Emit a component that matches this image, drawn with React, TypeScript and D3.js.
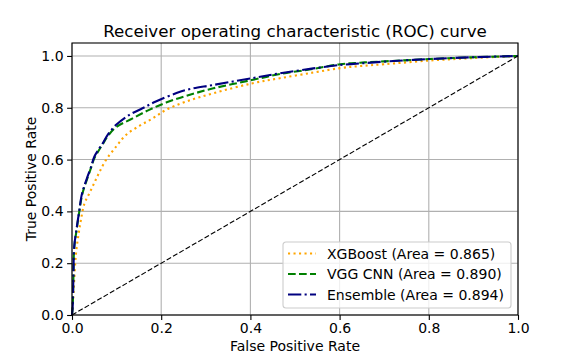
import React, { useEffect, useRef } from 'react';
import * as d3 from 'd3';

// ROC points (false positive rate, true positive rate)
const xgbFpr = [0, 0.003, 0.005, 0.009, 0.015, 0.02, 0.028, 0.039, 0.05, 0.061, 0.076, 0.099, 0.121, 0.151, 0.181, 0.211, 0.256, 0.317, 0.403, 0.466, 0.541, 0.601, 0.646, 0.7, 0.8, 0.9, 1.0];
const xgbTpr = [0, 0.071, 0.135, 0.238, 0.315, 0.367, 0.431, 0.47, 0.51, 0.55, 0.598, 0.65, 0.695, 0.73, 0.759, 0.792, 0.824, 0.856, 0.894, 0.914, 0.936, 0.953, 0.961, 0.968, 0.982, 0.992, 1.0];

const vggFpr = [0, 0.0015, 0.003, 0.005, 0.01, 0.016, 0.021, 0.026, 0.034, 0.043, 0.05, 0.06, 0.069, 0.08, 0.099, 0.136, 0.173, 0.211, 0.256, 0.317, 0.403, 0.466, 0.541, 0.601, 0.646, 0.7, 0.8, 0.9, 1.0];
const vggTpr = [0, 0.03, 0.13, 0.26, 0.325, 0.395, 0.45, 0.485, 0.525, 0.57, 0.605, 0.635, 0.66, 0.69, 0.725, 0.759, 0.792, 0.82, 0.846, 0.875, 0.907, 0.93, 0.95, 0.968, 0.974, 0.979, 0.988, 0.995, 1.0];

const ensFpr = [0, 0.0015, 0.003, 0.005, 0.01, 0.016, 0.021, 0.026, 0.034, 0.043, 0.05, 0.06, 0.069, 0.08, 0.099, 0.128, 0.158, 0.188, 0.233, 0.256, 0.317, 0.403, 0.466, 0.541, 0.601, 0.646, 0.7, 0.8, 0.9, 1.0];
const ensTpr = [0, 0.03, 0.135, 0.264, 0.33, 0.399, 0.457, 0.49, 0.53, 0.573, 0.611, 0.64, 0.663, 0.695, 0.734, 0.772, 0.798, 0.824, 0.856, 0.869, 0.888, 0.914, 0.933, 0.952, 0.965, 0.971, 0.978, 0.988, 0.995, 1.0];

const seriesLabels = ['XGBoost (Area = 0.865)', 'VGG CNN (Area = 0.890)', 'Ensemble (Area = 0.894)'];
const chanceLine = [0, 1];
const xTicks = [0, 0.2, 0.4, 0.6, 0.8, 1.0];
const yTicks = [0, 0.2, 0.4, 0.6, 0.8, 1.0];

const FONT = 'DejaVu Sans, sans-serif';

export default function App() {
  const ref = useRef<SVGSVGElement>(null);

  useEffect(() => {
    const svg = d3.select(ref.current);
    svg.selectAll('*').remove();

    const left = 72, right = 518, top = 43, bottom = 315;

    const x = d3.scaleLinear().domain([0, 1]).range([left, right]);
    const y = d3.scaleLinear().domain([0, 1.05]).range([bottom, top]);

    // grid
    svg.append('g').selectAll('line.gx')
      .data(xTicks).enter().append('line')
      .attr('x1', d => x(d)).attr('x2', d => x(d))
      .attr('y1', top).attr('y2', bottom)
      .attr('stroke', '#b0b0b0').attr('stroke-width', 1.1);
    svg.append('g').selectAll('line.gy')
      .data(yTicks).enter().append('line')
      .attr('x1', left).attr('x2', right)
      .attr('y1', d => y(d)).attr('y2', d => y(d))
      .attr('stroke', '#b0b0b0').attr('stroke-width', 1.1);

    // lw 1.5pt at 100dpi, matplotlib dash patterns scaled by lw
    const series = [
      { fpr: xgbFpr, tpr: xgbTpr, color: 'orange', dash: '2.1,3.4' },
      { fpr: vggFpr, tpr: vggTpr, color: 'green', dash: '7.7,3.3' },
      { fpr: ensFpr, tpr: ensTpr, color: 'navy', dash: '13.3,3.3,2.1,3.3' },
    ];

    const line = d3.line<[number, number]>()
      .x(d => x(d[0]))
      .y(d => y(d[1]))
      .curve(d3.curveCatmullRom.alpha(0.5));

    const plot = svg.append('g');
    series.forEach(s => {
      const pts = s.fpr.map((f, i) => [f, s.tpr[i]] as [number, number]);
      plot.append('path')
        .attr('d', line(pts))
        .attr('fill', 'none')
        .attr('stroke', s.color)
        .attr('stroke-width', 2.1)
        .attr('stroke-dasharray', s.dash);
    });

    plot.append('line')
      .attr('x1', x(chanceLine[0])).attr('y1', y(chanceLine[0]))
      .attr('x2', x(chanceLine[1])).attr('y2', y(chanceLine[1]))
      .attr('stroke', 'black')
      .attr('stroke-width', 1.1)
      .attr('stroke-dasharray', '5.1,2.2');

    // spines
    svg.append('rect')
      .attr('x', left).attr('y', top)
      .attr('width', right - left).attr('height', bottom - top)
      .attr('fill', 'none').attr('stroke', 'black').attr('stroke-width', 1.1);

    const fmt = d3.format('.1f');
    const xAxis = svg.append('g')
      .attr('transform', `translate(0,${bottom})`)
      .call(d3.axisBottom(x).tickValues(xTicks).tickFormat(d => fmt(d as number)).tickSize(4.9).tickSizeOuter(0).tickPadding(3.5));
    const yAxis = svg.append('g')
      .attr('transform', `translate(${left},0)`)
      .call(d3.axisLeft(y).tickValues(yTicks).tickFormat(d => fmt(d as number)).tickSize(4.9).tickSizeOuter(0).tickPadding(3.5));
    [xAxis, yAxis].forEach(a => {
      a.select('.domain').remove();
      a.selectAll('line').attr('stroke', 'black').attr('stroke-width', 1.1);
      a.selectAll('text')
        .attr('font-family', FONT)
        .attr('font-size', '14px')
        .attr('fill', 'black');
    });

    // title and axis labels
    svg.append('text')
      .attr('x', (left + right) / 2).attr('y', 37)
      .attr('text-anchor', 'middle')
      .attr('font-family', FONT).attr('font-size', '16.7px')
      .text('Receiver operating characteristic (ROC) curve');
    svg.append('text')
      .attr('x', (left + right) / 2).attr('y', 351)
      .attr('text-anchor', 'middle')
      .attr('font-family', FONT).attr('font-size', '14px')
      .text('False Positive Rate');
    svg.append('text')
      .attr('transform', `translate(36,${(top + bottom) / 2}) rotate(-90)`)
      .attr('text-anchor', 'middle')
      .attr('font-family', FONT).attr('font-size', '14px')
      .text('True Positive Rate');

    // legend
    const lg = svg.append('g').attr('transform', 'translate(283,242)');
    lg.append('rect')
      .attr('width', 228).attr('height', 66).attr('rx', 3)
      .attr('fill', 'white').attr('fill-opacity', 0.8)
      .attr('stroke', '#cccccc').attr('stroke-width', 1.1);
    series.forEach((s, i) => {
      const cy = 11.5 + i * 20.5;
      lg.append('line')
        .attr('x1', 5).attr('x2', 33)
        .attr('y1', cy).attr('y2', cy)
        .attr('stroke', s.color).attr('stroke-width', 2.1)
        .attr('stroke-dasharray', s.dash);
      lg.append('text')
        .attr('x', 44).attr('y', cy)
        .attr('dy', '0.36em')
        .attr('font-family', FONT).attr('font-size', '14px')
        .text(seriesLabels[i]);
    });
  }, []);

  return (
    <svg ref={ref} width={576} height={360}
      style={{ position: 'absolute', left: 0, top: 0, background: 'white' }} />
  );
}
